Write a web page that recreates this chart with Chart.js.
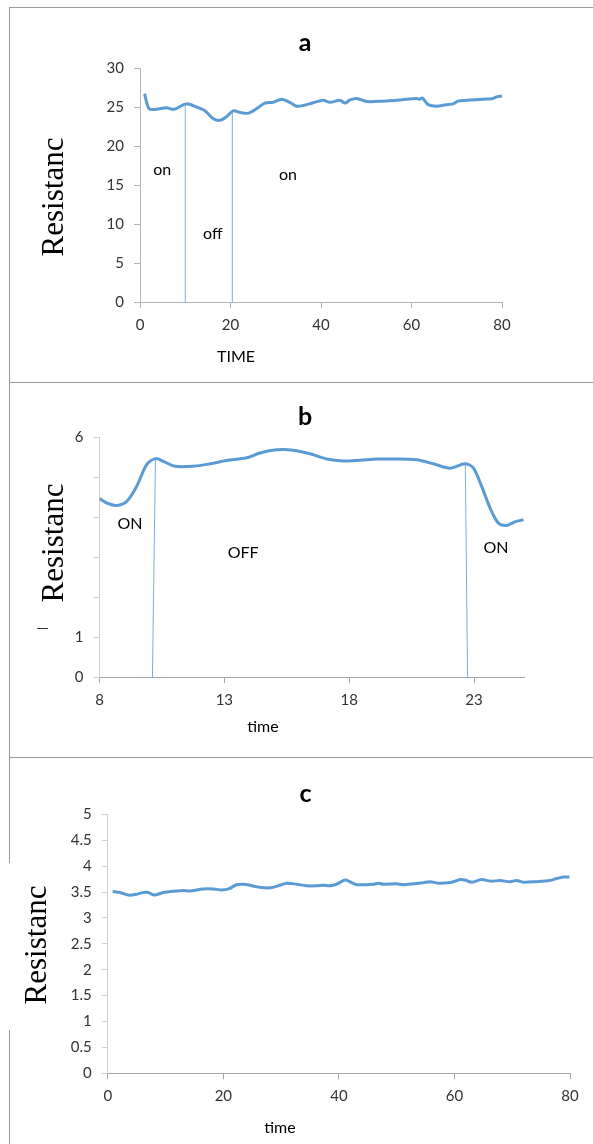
<!DOCTYPE html>
<html>
<head>
<meta charset="utf-8">
<script src="https://cdn.jsdelivr.net/npm/chart.js@4.4.0/dist/chart.umd.min.js"></script>
<style>
  body { margin: 0; background: #fff; width: 593px; height: 1144px; position: relative; overflow: hidden; }
  canvas { position: absolute; left: 0; display: block; }
  .hline { position: absolute; left: 9px; width: 584px; height: 0; border-top: 1px solid #9a9a9a; }
  .vline { position: absolute; left: 9px; width: 0; border-left: 1px solid #9a9a9a; }
</style>
</head>
<body>
<canvas id="chart-a" width="593" height="382" style="top:0px"></canvas>
<canvas id="chart-b" width="593" height="375" style="top:382px"></canvas>
<canvas id="chart-c" width="593" height="387" style="top:757px"></canvas>

<div class="hline" style="top:7px"></div>
<div class="hline" style="top:382px"></div>
<div class="hline" style="top:757px"></div>
<div class="vline" style="top:7px; height:856px"></div>
<div class="vline" style="top:1030px; height:114px"></div>

<script>
// ---- panel a ----
const timeA = [1, 2, 3.6, 5.9, 7.5, 10.2, 12.5, 14.4, 16.2, 17.7, 19.2, 20.6, 22.1, 23.9, 25.8, 27.6, 29.4, 31.3, 33.1, 34.6,
  36.1, 38.3, 40.5, 42, 44.2, 45.3, 46.4, 47.9, 50.1, 53.8, 57.4, 61.1, 61.8, 62.4, 63.7, 65.5, 67.7, 69.2, 70.3, 72.2,
  75.8, 77.7, 78.8, 80];
const resA = [26.7, 24.8, 24.7, 24.9, 24.7, 25.4, 25.0, 24.5, 23.5, 23.3, 23.8, 24.5, 24.3, 24.2, 24.8, 25.5, 25.6, 26.0, 25.6, 25.1,
  25.2, 25.55, 25.85, 25.6, 25.85, 25.5, 25.9, 26.1, 25.7, 25.75, 25.9, 26.1, 26.0, 26.15, 25.3, 25.1, 25.3, 25.4, 25.75, 25.85,
  26.0, 26.05, 26.3, 26.4];
const switchXA = [10.0, 20.4];
const switchTopA = [25.5, 24.6];
const xTicksA = [0, 20, 40, 60, 80];
const yTicksA = [0, 5, 10, 15, 20, 25, 30];

// ---- panel b ----
const timeB = [8.0, 8.29, 8.69, 9.09, 9.49, 9.89, 10.25, 10.56, 11.02, 11.76, 12.43, 13.09, 13.89, 14.43, 15.1, 15.76, 16.43,
  17.1, 17.76, 18.43, 19.1, 19.77, 20.7, 21.37, 22.04, 22.64, 22.97, 23.3, 23.64, 23.97, 24.31, 24.64, 24.98];
const resB = [4.46, 4.35, 4.29, 4.39, 4.77, 5.31, 5.46, 5.39, 5.27, 5.27, 5.33, 5.41, 5.48, 5.6, 5.68, 5.67, 5.58,
  5.45, 5.4, 5.42, 5.45, 5.45, 5.43, 5.33, 5.22, 5.33, 5.23, 4.77, 4.23, 3.85, 3.79, 3.88, 3.93];
// switching lines are slightly slanted: top x, bottom x, top y
const switchTopXB = [10.24, 22.65];
const switchBottomXB = [10.12, 22.74];
const switchTopB = [5.44, 5.33];
const xTicksB = [8, 13, 18, 23];
const yTicksB = [0, 1, 2, 3, 4, 5, 6];
const yLabelsB = [0, 1, 6];

// ---- panel c ----
const timeC = [0.84, 2.1, 3.56, 4.7, 6.15, 7.0, 8.06, 9.6, 11.9, 13.1, 14.2, 16.5, 18.3, 19.7, 20.9, 22.3, 23.5, 24.6, 25.8,
  28.1, 29.8, 31.0, 32.7, 34.4, 36.2, 37.3, 38.5, 39.6, 41.1, 42.2, 43.1, 46.0, 46.8, 47.7, 50.0, 51.2, 52.9, 54.6, 55.8,
  57.2, 59.5, 61.0, 61.8, 63.0, 64.7, 66.2, 67.9, 69.6, 70.8, 71.9, 74.2, 76.5, 77.7, 78.9, 79.9];
const resC = [3.51, 3.49, 3.44, 3.45, 3.49, 3.49, 3.44, 3.49, 3.52, 3.53, 3.52, 3.56, 3.56, 3.54, 3.56, 3.64, 3.65, 3.63, 3.60,
  3.58, 3.63, 3.67, 3.65, 3.62, 3.62, 3.63, 3.62, 3.65, 3.73, 3.68, 3.64, 3.65, 3.67, 3.65, 3.66, 3.64, 3.66, 3.68, 3.70,
  3.67, 3.69, 3.74, 3.73, 3.69, 3.74, 3.71, 3.72, 3.70, 3.72, 3.69, 3.70, 3.72, 3.76, 3.79, 3.79];
const xTicksC = [0, 20, 40, 60, 80];
const yTicksC = [0, 0.5, 1, 1.5, 2, 2.5, 3, 3.5, 4, 4.5, 5];

const LINE_BLUE = '#5b9bd5';
const SWITCH_BLUE = '#7aaee0';
const TICK_FONT = { family: 'Lato', size: 15 };

const toPoints = (xs, ys) => xs.map((x, i) => ({ x: x, y: ys[i] }));

// titles, axis titles and on/off notes
const panelText = {
  id: 'panelText',
  afterDraw(chart, args, o) {
    const ctx = chart.ctx;
    const sx = chart.scales.x, sy = chart.scales.y;
    ctx.save();
    ctx.fillStyle = '#000';
    ctx.textAlign = 'center';
    ctx.textBaseline = 'middle';

    ctx.font = 'bold 25px Lato';
    ctx.fillText(o.title, o.titleAt[0], o.titleAt[1]);

    ctx.font = '16px Lato';
    ctx.fillText(o.xTitle, o.xTitleAt[0], o.xTitleAt[1]);
    o.notes.forEach(n => {
      ctx.fillText(n.text, sx.getPixelForValue(n.x), sy.getPixelForValue(n.y));
    });

    if (o.dash) {
      ctx.strokeStyle = '#333';
      ctx.lineWidth = 1;
      ctx.beginPath();
      ctx.moveTo(o.dash[0], o.dash[2] + 0.5);
      ctx.lineTo(o.dash[1], o.dash[2] + 0.5);
      ctx.stroke();
    }

    ctx.translate(o.yTitleAt[0], o.yTitleAt[1]);
    ctx.rotate(-Math.PI / 2);
    ctx.font = '31px "Liberation Serif"';
    ctx.fillText('Resistanc', 0, 0);
    ctx.restore();
  }
};

function axis(min, max, ticks, pos, borderColor, labelFilter) {
  return {
    type: 'linear',
    position: pos,
    min: min,
    max: max,
    afterBuildTicks: s => { s.ticks = ticks.map(v => ({ value: v })); },
    afterFit: s => { if (pos === 'left') s.width = 40; else s.height = 30; },
    grid: { drawOnChartArea: false, tickLength: 6, color: borderColor },
    border: { color: borderColor, width: 1 },
    ticks: {
      font: TICK_FONT,
      color: '#333333',
      padding: pos === 'left' ? 10 : 8,
      autoSkip: false,
      maxRotation: 0,
      callback: v => (labelFilter && !labelFilter.includes(v)) ? '' : String(v)
    }
  };
}

function makeChart(id, datasets, padding, xAxis, yAxis, text) {
  return new Chart(document.getElementById(id), {
    type: 'scatter',
    data: { datasets: datasets },
    options: {
      responsive: false,
      animation: false,
      layout: { padding: padding },
      elements: { point: { radius: 0 } },
      plugins: { legend: { display: false }, tooltip: { enabled: false }, panelText: text },
      scales: { x: xAxis, y: yAxis }
    },
    plugins: [panelText]
  });
}

function curve(xs, ys) {
  return { data: toPoints(xs, ys), showLine: true, borderColor: LINE_BLUE, borderWidth: 3, tension: 0.3, pointRadius: 0 };
}
function switchLine(x0, y0, x1, y1) {
  return { data: [{ x: x0, y: y0 }, { x: x1, y: y1 }], showLine: true, borderColor: SWITCH_BLUE, borderWidth: 1, pointRadius: 0 };
}

makeChart('chart-a',
  [curve(timeA, resA)].concat(switchXA.map((x, i) => switchLine(x, 0, x, switchTopA[i]))),
  { left: 100, right: 91, top: 68, bottom: 50 },
  axis(0, 80, xTicksA, 'bottom', '#b5b5b5'),
  axis(0, 30, yTicksA, 'left', '#b5b5b5'),
  {
    title: 'a', titleAt: [305, 43],
    xTitle: 'TIME', xTitleAt: [236, 357],
    yTitleAt: [55, 197],
    notes: [{ text: 'on', x: 4.9, y: 16.9 }, { text: 'off', x: 16.1, y: 8.8 }, { text: 'on', x: 32.7, y: 16.3 }]
  });

makeChart('chart-b',
  [curve(timeB, resB)].concat(switchTopXB.map((x, i) => switchLine(x, switchTopB[i], switchBottomXB[i], 0))),
  { left: 59.5, right: 69, top: 55, bottom: 50 },
  axis(8, 25, xTicksB, 'bottom', '#a6a6a6'),
  axis(0, 6, yTicksB, 'left', '#d0d0d0', yLabelsB),
  {
    title: 'b', titleAt: [305, 35],
    xTitle: 'time', xTitleAt: [263, 345],
    yTitleAt: [55, 161],
    dash: [37, 48, 246],
    notes: [{ text: 'ON', x: 9.22, y: 3.83 }, { text: 'OFF', x: 13.75, y: 3.1 }, { text: 'ON', x: 23.88, y: 3.23 }]
  });

makeChart('chart-c',
  [curve(timeC, resC)],
  { left: 67.8, right: 23, top: 57.3, bottom: 40.7 },
  axis(0, 80, xTicksC, 'bottom', '#a6a6a6'),
  axis(0, 5, yTicksC, 'left', '#d0d0d0'),
  {
    title: 'c', titleAt: [305.6, 37],
    xTitle: 'time', xTitleAt: [280, 371],
    yTitleAt: [38, 188],
    notes: []
  });
</script>
</body>
</html>
